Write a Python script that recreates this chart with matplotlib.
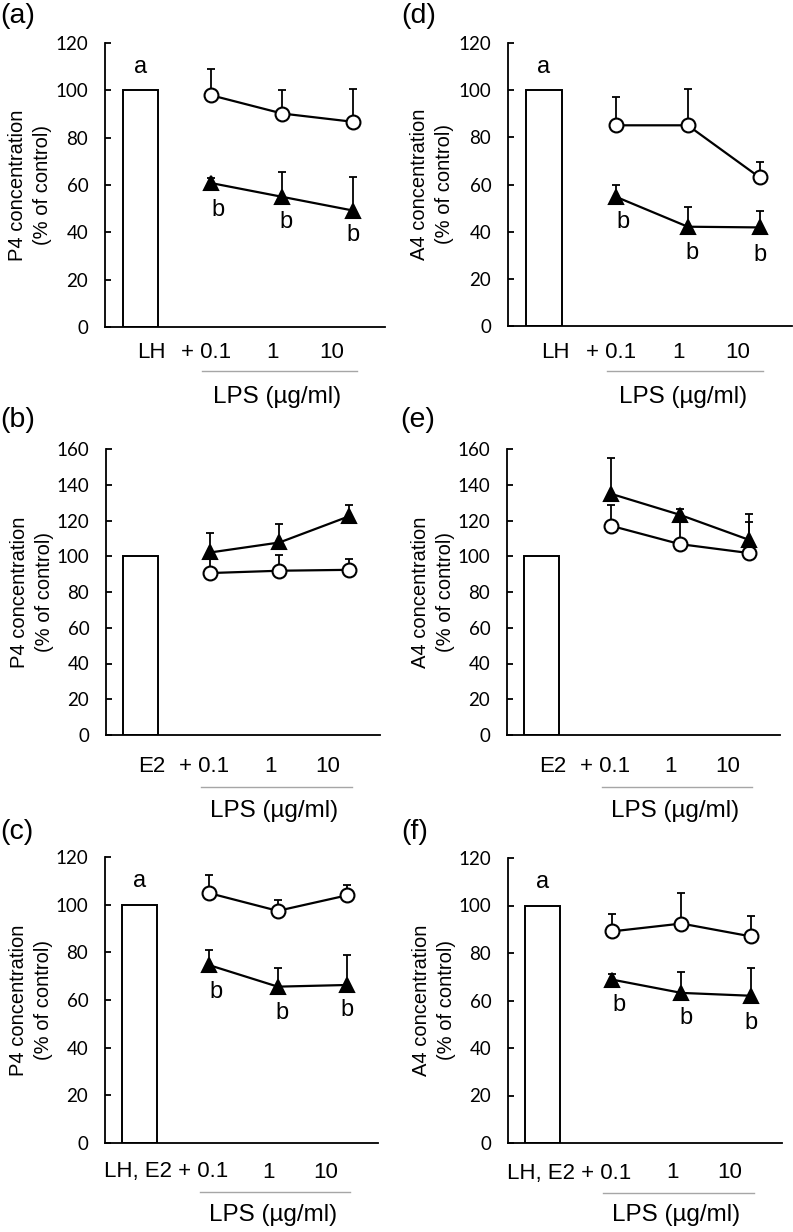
import matplotlib
matplotlib.use("Agg")
import matplotlib.pyplot as plt
import numpy as np

# ---- data ----
doses = ["0.1", "1", "10"]
controls = ["LH", "E2", "LH, E2"]

# P4 panels (a), (b), (c)
a_open = [97.9, 90.2, 86.7]
a_open_err = [11.3, 10.1, 13.7]
a_tri = [60.8, 55.0, 49.2]
a_tri_err = [2.2, 10.6, 14.3]

b_open = [90.6, 91.9, 92.4]
b_open_err = [9.0, 8.9, 6.0]
b_tri = [102.1, 107.7, 122.3]
b_tri_err = [10.9, 10.3, 6.3]

c_open = [104.9, 97.4, 103.9]
c_open_err = [7.5, 4.6, 4.5]
c_tri = [74.7, 65.6, 66.3]
c_tri_err = [6.3, 7.7, 12.6]

# A4 panels (d), (e), (f)
d_open = [85.1, 85.1, 63.0]
d_open_err = [12.0, 15.6, 6.6]
d_tri = [54.8, 42.1, 41.8]
d_tri_err = [4.9, 8.2, 7.0]

e_open = [117.1, 106.8, 101.8]
e_open_err = [11.7, 14.0, 17.1]
e_tri = [135.0, 123.2, 109.2]
e_tri_err = [20.0, 3.2, 14.4]

f_open = [89.1, 92.4, 87.0]
f_open_err = [7.3, 12.9, 8.7]
f_tri = [68.8, 63.2, 62.0]
f_tri_err = [2.5, 8.7, 11.7]

bar_value = 100
a_letter_y = 110
b_letters_y = {
    "a": [49.3, 44.4, 38.7],
    "c": [63.5, 54.4, 55.8],
    "d": [44.2, 30.8, 30.1],
    "f": [58.2, 52.6, 50.7],
}

W, H = 793, 1232
fig = plt.figure(figsize=(W / 100, H / 100), dpi=100)

TICK_FONT = "Lato"
TEXT_FONT = "Liberation Sans"


def px_axes(left, right, y0, ytop):
    return fig.add_axes([left / W, 1 - y0 / H, (right - left) / W, (y0 - ytop) / H])


def draw_panel(ax, open_y, open_err, tri_y, tri_err, ymax, ctrl, ylab,
               b_y=None, offs=(27, 46, 72)):
    x = np.array([2, 3, 4])
    ax.bar(1, bar_value, width=0.5, color="white", edgecolor="black",
           linewidth=1.4, zorder=2)
    for y, err, mk, fc in [(open_y, open_err, "o", "white"), (tri_y, tri_err, "^", "black")]:
        ax.errorbar(x, y, yerr=[np.zeros(3), err], fmt="none", ecolor="black",
                    elinewidth=1.3, capsize=3.2, capthick=1.3, zorder=3)
        ax.plot(x, y, color="black", lw=1.6, zorder=4)
        ax.plot(x, y, ls="none", marker=mk, ms=10 if mk == "o" else 10.5,
                mfc=fc, mec="black", mew=1.5, zorder=5, clip_on=False)

    ax.set_xlim(0.5, 4.45)
    ax.set_ylim(0, ymax)
    ax.set_yticks(np.arange(0, ymax + 1, 20))
    ax.set_xticks([])
    for s in ["top", "right"]:
        ax.spines[s].set_visible(False)
    for s in ["left", "bottom"]:
        ax.spines[s].set_linewidth(1.3)
    ax.tick_params(axis="y", direction="in", length=4, width=1.3, pad=12)
    for lab in ax.get_yticklabels():
        lab.set_fontfamily(TICK_FONT)
        lab.set_fontsize(13.5)

    ax.set_ylabel(ylab + "\n(% of control)", fontsize=14.5, family=TEXT_FONT,
                  linespacing=1.4)
    ax.yaxis.set_label_coords(-0.19, 0.5)

    axh = ax.get_position().height * H
    tr = ax.get_xaxis_transform()
    lab_y = -offs[0] / axh
    fs = 16
    if ctrl == "LH, E2":
        ax.text(2.28, lab_y, ctrl + " + 0.1", transform=tr, ha="right", va="center",
                fontsize=fs, family=TEXT_FONT)
    else:
        ax.text(1.16, lab_y, ctrl, transform=tr, ha="center", va="center",
                fontsize=fs, family=TEXT_FONT)
        ax.text(2.28, lab_y, "+ " + doses[0], transform=tr, ha="right", va="center",
                fontsize=fs, family=TEXT_FONT)
    ax.text(2.87, lab_y, doses[1], transform=tr, ha="center", va="center",
            fontsize=fs, family=TEXT_FONT)
    ax.text(3.7, lab_y, doses[2], transform=tr, ha="center", va="center",
            fontsize=fs, family=TEXT_FONT)
    ax.plot([1.87, 4.05], [-offs[1] / axh] * 2, transform=tr, color="#a6a6a6",
            lw=1.0, clip_on=False)
    ax.text(2.93, -offs[2] / axh, "LPS (\u00b5g/ml)", transform=tr, ha="center",
            va="center", fontsize=17.5, family=TEXT_FONT)

    if b_y is not None:
        ax.text(1.0, a_letter_y, "a", ha="center", va="center", fontsize=17,
                family=TEXT_FONT)
        for xi, yi, dx in zip(x, b_y, [0.1, 0.06, 0.0]):
            ax.text(xi + dx, yi, "b", ha="center", va="center", fontsize=17,
                    family=TEXT_FONT)


ax_a = px_axes(105, 385, 327, 43)
draw_panel(ax_a, a_open, a_open_err, a_tri, a_tri_err, 120, controls[0],
           "P4 concentration", b_letters_y["a"], offs=(25, 44, 70))
ax_b = px_axes(106, 380, 735, 449)
draw_panel(ax_b, b_open, b_open_err, b_tri, b_tri_err, 160, controls[1],
           "P4 concentration", None, offs=(32, 52, 76))
ax_c = px_axes(105, 378, 1143, 857)
draw_panel(ax_c, c_open, c_open_err, c_tri, c_tri_err, 120, controls[2],
           "P4 concentration", b_letters_y["c"], offs=(29, 49, 72))

ax_d = px_axes(508, 792, 326, 43)
draw_panel(ax_d, d_open, d_open_err, d_tri, d_tri_err, 120, controls[0],
           "A4 concentration", b_letters_y["d"], offs=(26, 45, 71))
ax_e = px_axes(507, 780, 735, 449)
draw_panel(ax_e, e_open, e_open_err, e_tri, e_tri_err, 160, controls[1],
           "A4 concentration", None, offs=(32, 52, 76))
ax_f = px_axes(508, 782, 1143, 858)
draw_panel(ax_f, f_open, f_open_err, f_tri, f_tri_err, 120, controls[2],
           "A4 concentration", b_letters_y["f"], offs=(30, 50, 72))

for lab, xp, yp in [("(a)", 0, 16), ("(b)", 0, 420), ("(c)", 0, 832),
                    ("(d)", 401, 16), ("(e)", 400, 420), ("(f)", 401, 832)]:
    fig.text(xp / W, 1 - yp / H, lab, ha="left", va="center", fontsize=20.5,
             family=TEXT_FONT)

fig.savefig("out.png", dpi=100, facecolor="white")
